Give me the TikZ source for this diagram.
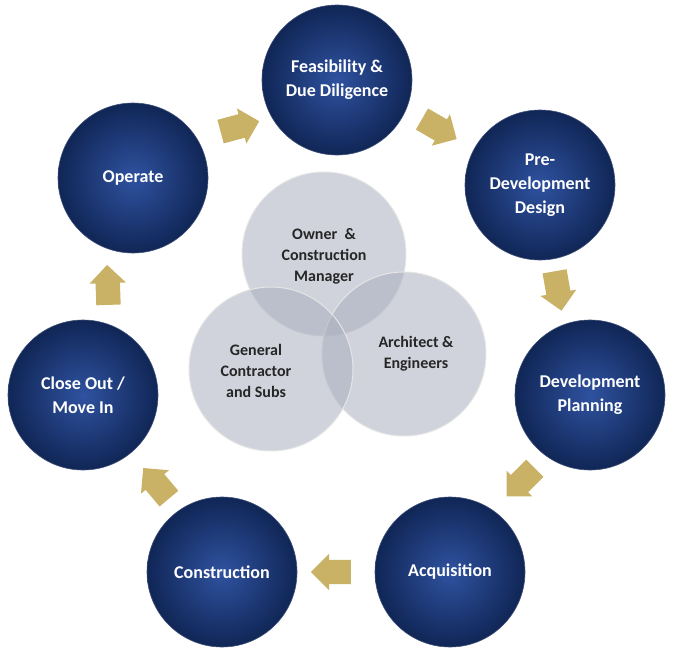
\documentclass[tikz,border=0pt]{standalone}
\usepackage{fontspec}
\setmainfont{Carlito}
\usetikzlibrary{shapes.arrows}
\definecolor{phasedark}{HTML}{102656}
\definecolor{phaselight}{HTML}{2F52A0}
\definecolor{gold}{HTML}{C9B165}
\definecolor{venngray}{HTML}{A9AFBE}
\tikzset{
phase/.style={circle, minimum size=150pt, inner sep=0pt, align=center,
  text=white, font=\bfseries\fontsize{18}{24}\selectfont,
  inner color=phaselight, outer color=phasedark, draw=phasedark!80, line width=0.6pt},
team/.style={circle, minimum size=164pt, inner sep=0pt,
  fill=venngray, fill opacity=0.55, draw=white!80!gray, line width=1pt},
teamlabel/.style={align=center, text=black!85, font=\bfseries\fontsize{16}{21}\selectfont},
step arrow/.style={single arrow, fill=gold, minimum height=40pt,
  single arrow head extend=6pt, inner xsep=0pt, inner ysep=12pt}
}
\begin{document}
\begin{tikzpicture}[x=1pt,y=-1pt]
\useasboundingbox (0,0) rectangle (673,659);

% phases
\node (feas) [phase] at (337,80) {Feasibility \&\\Due Diligence};
\node (pre) [phase] at (540,185) {Pre-\\Development\\Design};
\node (plan) [phase] at (590,395) {Development\\Planning};
\node (acq) [phase] at (450,572) {Acquisition};
\node (cons) [phase] at (222,572) {Construction};
\node (close) [phase] at (83,395) {Close Out /\\Move In};
\node (oper) [phase] at (133,178) {Operate};

% team
\node (owner) [team] at (324,254) {};
\node (arch) [team] at (404,354) {};
\node (gc) [team] at (271,369) {};
\node (ownertext) [teamlabel, yshift=-2pt] at (owner.center) {Owner~ \&\\Construction\\Manager};
\node (archtext) [teamlabel, xshift=12pt] at (arch.center) {Architect \&\\Engineers};
\node (gctext) [teamlabel, xshift=-15pt, yshift=-2pt] at (gc.center) {General\\Contractor\\and Subs};

% arrows
\node (a1) [step arrow, rotate=15] at (234,128) {};
\node (a2) [step arrow, rotate=-30] at (434,126) {};
\node (a3) [step arrow, rotate=-80] at (557,285) {};
\node (a4) [step arrow, rotate=-135] at (525,478) {};
\node (a5) [step arrow, rotate=180] at (337,572) {};
\node (a6) [step arrow, rotate=130] at (160,488) {};
\node (a7) [step arrow, rotate=92] at (108,291) {};

\end{tikzpicture}
\end{document}
